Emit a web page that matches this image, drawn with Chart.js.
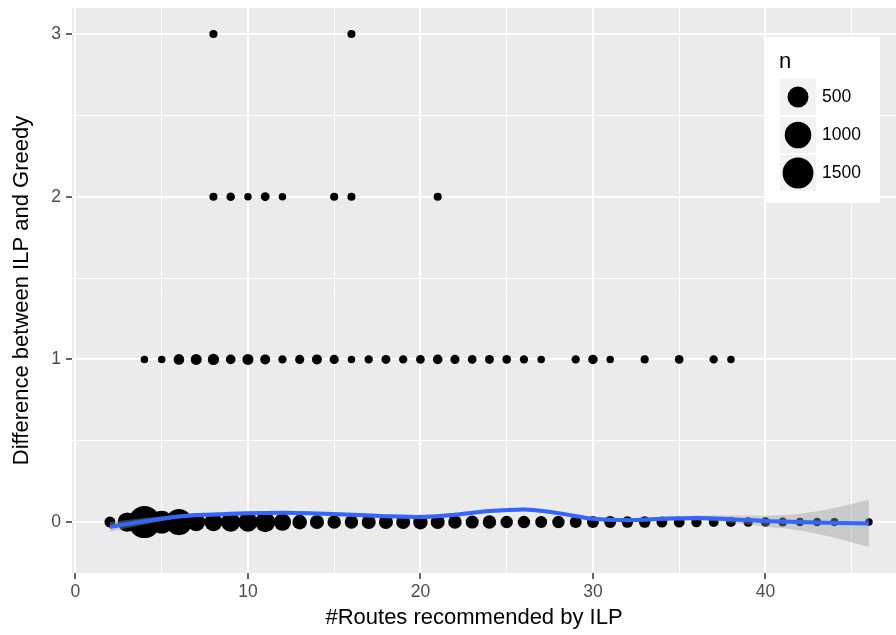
<!DOCTYPE html>
<html>
<head>
<meta charset="utf-8">
<script src="https://cdn.jsdelivr.net/npm/chart.js@4/dist/chart.umd.min.js"></script>
<style>
  html, body { margin: 0; padding: 0; background: #fff; }
</style>
</head>
<body>
<canvas id="chart" width="896" height="635"></canvas>
<script>
// Counts (n) per (#routes, difference) cell
var row0X = [2, 3, 4, 5, 6, 7, 8, 9, 10, 11, 12, 13, 14, 15, 16, 17, 18, 19, 20, 21, 22, 23, 24,
             25, 26, 27, 28, 29, 30, 31, 32, 33, 34, 35, 36, 37, 38, 39, 40, 41, 42, 43, 44, 46];
var row0N = [35, 380, 1650, 650, 970, 313, 313, 380, 380, 440, 260, 140, 120, 100, 100, 120, 120, 120, 140, 120, 100, 86, 100,
             70, 70, 57, 70, 57, 57, 57, 45, 45, 35, 35, 25, 18, 18, 12, 12, 7, 4, 4, 2, 1];

var row1X = [4, 5, 6, 7, 8, 9, 10, 11, 12, 13, 14, 15, 16, 17, 18, 19, 20, 21, 22, 23, 24, 25, 26, 27, 29, 30, 31, 33, 35, 37, 38];
var row1N = [1, 1, 28, 35, 40, 14, 35, 18, 3, 9, 18, 9, 1, 3, 7, 3, 5, 14, 9, 5, 7, 5, 3, 1, 3, 12, 1, 2, 5, 3, 1];

var row2X = [8, 9, 10, 11, 12, 15, 16, 21];
var row2N = [2, 4, 1, 6, 1, 2, 2, 2];

var row3X = [8, 16];
var row3N = [2, 2];

// loess smooth and its standard error band
var smoothX  = [2, 4, 6, 8, 10, 12, 14, 16, 18, 20, 22, 24, 26, 28, 30, 32, 34, 36, 38, 40, 42, 44, 46];
var smoothY  = [-0.03, 0.005, 0.035, 0.047, 0.055, 0.058, 0.053, 0.045, 0.036, 0.031, 0.045, 0.068,
                0.078, 0.055, 0.02, 0.012, 0.02, 0.025, 0.018, 0.006, 0.0, -0.005, -0.008];
var smoothSE = [0.03, 0.02, 0.012, 0.012, 0.012, 0.012, 0.012, 0.012, 0.012, 0.012, 0.012, 0.012,
                0.012, 0.012, 0.012, 0.012, 0.012, 0.015, 0.022, 0.033, 0.052, 0.092, 0.145];

var legendN = [500, 1000, 1500];

var FONT = '"Liberation Sans", Arial, Helvetica, sans-serif';
var PANEL = { left: 72, top: 8, bottomH: 62 };
var X_TITLE = { text: '#Routes recommended by ILP', x: 474, y: 618 };

var points = [];
[[row0X, row0N, 0], [row1X, row1N, 1], [row2X, row2N, 2], [row3X, row3N, 3]].forEach(function (r) {
  r[0].forEach(function (x, i) { points.push({ x: x, y: r[2], n: r[1][i] }); });
});

var nMin = Math.min.apply(null, points.map(function (p) { return p.n; }));
var nMax = Math.max.apply(null, points.map(function (p) { return p.n; }));
var R_MIN = 3.75, R_MAX = 16;

// area-style size scale like ggplot's scale_size
function radiusFor(n) {
  var t = (n - nMin) / (nMax - nMin);
  return R_MIN + Math.sqrt(Math.max(0, t)) * (R_MAX - R_MIN);
}

function band(sign) {
  return smoothX.map(function (x, i) { return { x: x, y: smoothY[i] + sign * smoothSE[i] }; });
}

var panelBg = {
  id: 'panelBg',
  beforeDraw: function (chart) {
    var a = chart.chartArea, ctx = chart.ctx;
    ctx.save();
    ctx.fillStyle = '#EBEBEB';
    ctx.fillRect(a.left, a.top, a.right - a.left, a.bottom - a.top);
    ctx.restore();
  }
};

var sizeLegend = {
  id: 'sizeLegend',
  afterDraw: function (chart) {
    var ctx = chart.ctx;
    ctx.save();
    // x axis title
    ctx.fillStyle = '#000';
    ctx.font = '22px ' + FONT;
    ctx.textAlign = 'center';
    ctx.textBaseline = 'middle';
    ctx.fillText(X_TITLE.text, X_TITLE.x, X_TITLE.y);
    ctx.textAlign = 'left';

    ctx.fillStyle = '#fff';
    ctx.fillRect(764, 37, 116, 166);
    ctx.fillStyle = '#000';
    ctx.textBaseline = 'alphabetic';
    ctx.fillText('n', 779, 68);
    legendN.forEach(function (n, i) {
      var top = 79 + i * 38;
      ctx.fillStyle = '#F2F2F2';
      ctx.fillRect(780, top, 36, 36);
      ctx.fillStyle = '#000';
      ctx.beginPath();
      ctx.arc(798, top + 18, radiusFor(n), 0, Math.PI * 2);
      ctx.fill();
      ctx.font = '17.5px ' + FONT;
      ctx.textBaseline = 'middle';
      ctx.fillText(String(n), 822, top + 18.5);
    });
    ctx.restore();
  }
};

function isMajor(ctx) {
  return ctx.tick && Math.abs(ctx.tick.value - Math.round(ctx.tick.value)) < 1e-9 &&
    (ctx.scale.axis === 'y' || ctx.tick.value % 10 === 0);
}

// pin the plotting panel: no label overflow padding
function noPad(s) {
  s.paddingLeft = 0; s.paddingRight = 0; s.paddingTop = 0; s.paddingBottom = 0;
}

new Chart(document.getElementById('chart'), {
  type: 'scatter',
  data: {
    datasets: [
      {
        type: 'line', data: smoothX.map(function (x, i) { return { x: x, y: smoothY[i] }; }),
        borderColor: '#3366FF', borderWidth: 4, pointRadius: 0, fill: false,
        cubicInterpolationMode: 'monotone', order: 0
      },
      {
        type: 'line', data: band(1), borderWidth: 0, borderColor: 'rgba(0,0,0,0)', pointRadius: 0,
        backgroundColor: 'rgba(153,153,153,0.4)', fill: '+1', cubicInterpolationMode: 'monotone', order: 1
      },
      {
        type: 'line', data: band(-1), borderWidth: 0, borderColor: 'rgba(0,0,0,0)', pointRadius: 0,
        fill: false, cubicInterpolationMode: 'monotone', order: 2
      },
      {
        data: points, backgroundColor: '#000', borderWidth: 0,
        pointRadius: function (c) { return c.raw ? radiusFor(c.raw.n) : 0; },
        pointHoverRadius: function (c) { return c.raw ? radiusFor(c.raw.n) : 0; },
        order: 3
      }
    ]
  },
  options: {
    responsive: false,
    animation: false,
    events: [],
    layout: { autoPadding: false, padding: { left: 0, top: PANEL.top, right: 0, bottom: 0 } },
    plugins: { legend: { display: false }, tooltip: { enabled: false } },
    scales: {
      x: {
        type: 'linear', min: -0.2, max: 47.57,
        afterBuildTicks: function (s) { s.ticks = [0, 5, 10, 15, 20, 25, 30, 35, 40, 45].map(function (v) { return { value: v }; }); },
        afterFit: function (s) { s.height = PANEL.bottomH; noPad(s); },
        ticks: {
          autoSkip: false, maxRotation: 0, padding: 3, color: '#4D4D4D',
          font: { family: FONT, size: 17.5 },
          callback: function (v) { return v % 10 === 0 ? v : ''; }
        },
        grid: {
          color: '#fff', tickLength: 6,
          lineWidth: function (c) { return isMajor(c) ? 2 : 1; },
          tickColor: function (c) { return isMajor(c) ? '#333' : 'rgba(0,0,0,0)'; },
          tickWidth: 1.5
        },
        border: { display: false },
        title: { display: false }
      },
      y: {
        type: 'linear', min: -0.313, max: 3.16,
        afterBuildTicks: function (s) { s.ticks = [0, 0.5, 1, 1.5, 2, 2.5, 3].map(function (v) { return { value: v }; }); },
        afterFit: function (s) { s.width = PANEL.left; noPad(s); },
        ticks: {
          autoSkip: false, padding: 5, color: '#4D4D4D',
          font: { family: FONT, size: 17.5 },
          callback: function (v) { return Number.isInteger(v) ? v : ''; }
        },
        grid: {
          color: '#fff', tickLength: 6,
          lineWidth: function (c) { return isMajor(c) ? 2 : 1; },
          tickColor: function (c) { return isMajor(c) ? '#333' : 'rgba(0,0,0,0)'; },
          tickWidth: 1.5
        },
        border: { display: false },
        title: { display: true, text: 'Difference between ILP and Greedy', color: '#000',
                 font: { family: FONT, size: 22 }, padding: { top: 9, bottom: 9 } }
      }
    }
  },
  plugins: [panelBg, sizeLegend]
});
</script>
</body>
</html>
